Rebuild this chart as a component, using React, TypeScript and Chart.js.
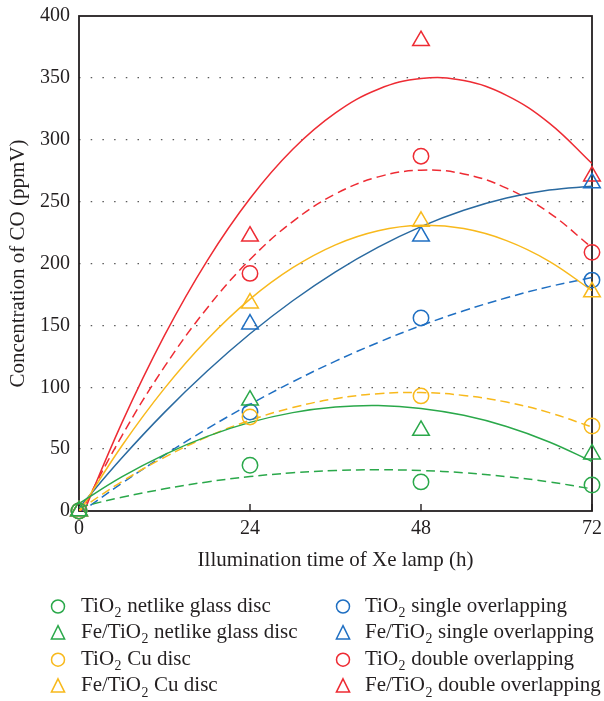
import React, { useEffect, useRef } from 'react';
import { Chart, registerables } from 'chart.js';

Chart.register(...registerables);

// ---------- data ----------
const hours = [0, 24, 48, 72];
const fitHours = [0, 6, 12, 18, 24, 30, 36, 42, 48, 54, 60, 66, 72];
const xTickValues = [0, 24, 48, 72];
const yTickValues = [0, 50, 100, 150, 200, 250, 300, 350, 400];

const tio2Netlike = [0, 37, 23.5, 21];
const feNetlike = [0, 89.5, 65, 46];
const tio2Cu = [0, 76, 93, 68.7];
const feCu = [0, 168, 234, 177];
const tio2Single = [0, 80, 156, 186.6];
const feSingle = [0, 151, 222, 265];
const tio2Double = [0, 192, 286.7, 209];
const feDouble = [0, 222, 380, 270.6];

const fitTio2Netlike = [3.1, 11.1, 17.9, 23.5, 27.8, 30.9, 32.7, 33.3, 32.7, 30.9, 27.8, 23.5, 17.9];
const fitFeNetlike = [6.0, 27.5, 45.6, 60.3, 71.6, 79.5, 84.0, 85.2, 82.9, 77.3, 68.3, 55.8, 40.0];
const fitTio2Cu = [0.9, 23.7, 43.4, 59.9, 73.3, 83.6, 90.8, 94.8, 95.7, 93.4, 88.0, 79.5, 67.8];
const fitFeCu = [-1, 52.5, 99.1, 138.6, 171.2, 196.6, 215.1, 226.5, 230.9, 228.2, 218.5, 201.8, 178.1];
const fitTio2Single = [-2.1, 22.3, 45.2, 66.5, 86.2, 104.4, 121.1, 136.2, 149.8, 161.8, 172.3, 181.3, 188.7];
const fitFeSingle = [2.6, 42.8, 79.7, 113.1, 143.2, 169.9, 193.3, 213.2, 229.8, 243.0, 252.9, 259.3, 262.4];
const fitTio2Double = [-3.8, 60.6, 116.6, 164.1, 203.2, 233.9, 256.2, 270.0, 275.4, 272.4, 260.9, 241.0, 212.7];
const fitFeDouble = [-10.2, 71.0, 141.9, 202.4, 252.5, 292.3, 321.7, 340.8, 349.5, 347.8, 335.9, 313.5, 280.8];

const seriesLabels = [
  'TiO₂ netlike glass disc',
  'Fe/TiO₂ netlike glass disc',
  'TiO₂ Cu disc',
  'Fe/TiO₂ Cu disc',
  'TiO₂ single overlapping',
  'Fe/TiO₂ single overlapping',
  'TiO₂ double overlapping',
  'Fe/TiO₂ double overlapping',
];

const xTitle = 'Illumination time of Xe lamp (h)';
const yTitle = 'Concentration of CO (ppmV)';

// ---------- styles ----------
const FONT = '"Liberation Serif", "Times New Roman", serif';
const INK = '#231f20';
const GREEN = '#2aa84a';
const YELLOW = '#f8b91c';
const BLUE = '#1f6fc2';
const BLUE_LINE = '#2a6aa0';
const RED = '#ee2b33';

type Marker = 'circle' | 'triangle';
const seriesStyle: { color: string; line: string; marker: Marker; dashed: boolean }[] = [
  { color: GREEN, line: GREEN, marker: 'circle', dashed: true },
  { color: GREEN, line: GREEN, marker: 'triangle', dashed: false },
  { color: YELLOW, line: YELLOW, marker: 'circle', dashed: true },
  { color: YELLOW, line: YELLOW, marker: 'triangle', dashed: false },
  { color: BLUE, line: BLUE, marker: 'circle', dashed: true },
  { color: BLUE, line: BLUE_LINE, marker: 'triangle', dashed: false },
  { color: RED, line: RED, marker: 'circle', dashed: true },
  { color: RED, line: RED, marker: 'triangle', dashed: false },
];

const seriesValues = [tio2Netlike, feNetlike, tio2Cu, feCu, tio2Single, feSingle, tio2Double, feDouble];
const seriesFits = [
  fitTio2Netlike, fitFeNetlike, fitTio2Cu, fitFeCu,
  fitTio2Single, fitFeSingle, fitTio2Double, fitFeDouble,
];

function drawRich(ctx: CanvasRenderingContext2D, text: string, x: number, baseline: number, size: number) {
  const parts = text.split('₂');
  let cx = x;
  ctx.textAlign = 'left';
  ctx.textBaseline = 'alphabetic';
  parts.forEach((p, i) => {
    ctx.font = `${size}px ${FONT}`;
    ctx.fillText(p, cx, baseline);
    cx += ctx.measureText(p).width;
    if (i < parts.length - 1) {
      const s = size * 0.66;
      ctx.font = `${s}px ${FONT}`;
      ctx.fillText('2', cx + 0.5, baseline + size * 0.25);
      cx += ctx.measureText('2').width + 1;
    }
  });
}

function drawMarker(ctx: CanvasRenderingContext2D, kind: Marker, x: number, y: number, color: string) {
  ctx.save();
  ctx.strokeStyle = color;
  ctx.lineWidth = 1.5;
  ctx.beginPath();
  if (kind === 'circle') {
    ctx.arc(x, y, 6.5, 0, Math.PI * 2);
  } else {
    ctx.moveTo(x, y - 7.5);
    ctx.lineTo(x + 6.6, y + 5.8);
    ctx.lineTo(x - 6.6, y + 5.8);
    ctx.closePath();
  }
  ctx.stroke();
  ctx.restore();
}

const framePlugin = {
  id: 'frameAndTicks',
  beforeDatasetsDraw(chart: any) {
    const { ctx, chartArea: a, scales } = chart;
    ctx.save();
    ctx.strokeStyle = INK;
    ctx.lineWidth = 1.8;
    ctx.strokeRect(a.left, a.top, a.right - a.left, a.bottom - a.top);
    ctx.lineWidth = 1.4;
    for (const v of xTickValues) {
      const px = scales.x.getPixelForValue(v);
      ctx.beginPath();
      ctx.moveTo(px, a.bottom);
      ctx.lineTo(px, a.bottom - 7);
      ctx.stroke();
    }
    ctx.restore();
  },
};

const legendPlugin = {
  id: 'twoColumnLegend',
  afterDraw(chart: any) {
    const { ctx, chartArea: a } = chart;
    ctx.save();
    ctx.fillStyle = INK;
    seriesLabels.forEach((label, i) => {
      const col = Math.floor(i / 4);
      const row = i % 4;
      const markerX = col === 0 ? a.left - 21 : a.left + 264;
      const textX = col === 0 ? a.left + 2 : a.left + 286;
      const baseline = a.bottom + 100.5 + row * 26.6;
      const st = seriesStyle[i];
      drawMarker(ctx, st.marker, markerX, baseline - 5, st.color);
      ctx.fillStyle = INK;
      drawRich(ctx, label, textX, baseline, 21);
    });
    ctx.restore();
  },
};

export default function App() {
  const ref = useRef<HTMLCanvasElement | null>(null);

  useEffect(() => {
    if (!ref.current) return;
    const markerSets = seriesLabels.map((label, i) => {
      const st = seriesStyle[i];
      return {
        type: 'scatter' as const,
        label,
        data: hours.map((h, k) => ({ x: h, y: seriesValues[i][k] })),
        pointStyle: st.marker,
        pointRadius: st.marker === 'triangle' ? 9.6 : 7.7,
        pointBorderWidth: 1.5,
        pointBorderColor: st.color,
        pointBackgroundColor: 'rgba(0,0,0,0)',
        borderColor: st.color,
        backgroundColor: 'rgba(0,0,0,0)',
        showLine: false,
        clip: false as const,
        order: 0,
      };
    });
    const fitSets = seriesLabels.map((label, i) => {
      const st = seriesStyle[i];
      return {
        type: 'line' as const,
        label: label + ' fit',
        data: fitHours.map((h, k) => ({ x: h, y: seriesFits[i][k] })),
        borderColor: st.line,
        borderWidth: 1.5,
        borderDash: st.dashed ? [9, 5] : [],
        pointRadius: 0,
        fill: false,
        tension: 0.4,
        order: 1,
      };
    });

    const chart = new Chart(ref.current, {
      type: 'scatter',
      data: { datasets: [...markerSets, ...fitSets] as any },
      options: {
        responsive: false,
        animation: false,
        events: [],
        layout: { padding: { top: 16, right: 12, bottom: 128, left: 0 } },
        plugins: {
          legend: { display: false },
          tooltip: { enabled: false },
        },
        scales: {
          x: {
            type: 'linear',
            min: 0,
            max: 72,
            afterBuildTicks: (s: any) => {
              s.ticks = xTickValues.map((v) => ({ value: v }));
            },
            afterFit: (s: any) => {
              s.height = 62;
              s.paddingLeft = 0;
              s.paddingRight = 0;
            },
            grid: { display: false, drawTicks: false },
            border: { display: false },
            ticks: {
              color: INK,
              padding: 6,
              maxRotation: 0,
              autoSkip: false,
              font: { family: FONT, size: 20 },
            },
            title: {
              display: true,
              text: xTitle,
              color: INK,
              padding: 0,
              font: { family: FONT, size: 21 },
            },
          },
          y: {
            type: 'linear',
            min: 0,
            max: 400,
            afterBuildTicks: (s: any) => {
              s.ticks = yTickValues.map((v) => ({ value: v }));
            },
            afterFit: (s: any) => {
              s.width = 79;
              s.paddingTop = 0;
              s.paddingBottom = 0;
            },
            grid: {
              drawTicks: false,
              lineWidth: 1.3,
              color: (c: any) =>
                c.tick && (c.tick.value === 0 || c.tick.value === 400) ? 'rgba(0,0,0,0)' : '#5a5a5a',
            },
            border: { display: false, dash: [1.5, 10.2] },
            ticks: {
              color: INK,
              padding: 9,
              autoSkip: false,
              font: { family: FONT, size: 20 },
            },
            title: {
              display: true,
              text: yTitle,
              color: INK,
              padding: { top: 6, bottom: 0 },
              font: { family: FONT, size: 21 },
            },
          },
        },
      },
      plugins: [framePlugin, legendPlugin],
    });
    return () => chart.destroy();
  }, []);

  return (
    <div style={{ position: 'absolute', left: 0, top: 0, width: 604, height: 701, background: '#fff' }}>
      <canvas ref={ref} width={604} height={701} style={{ display: 'block' }} />
    </div>
  );
}
